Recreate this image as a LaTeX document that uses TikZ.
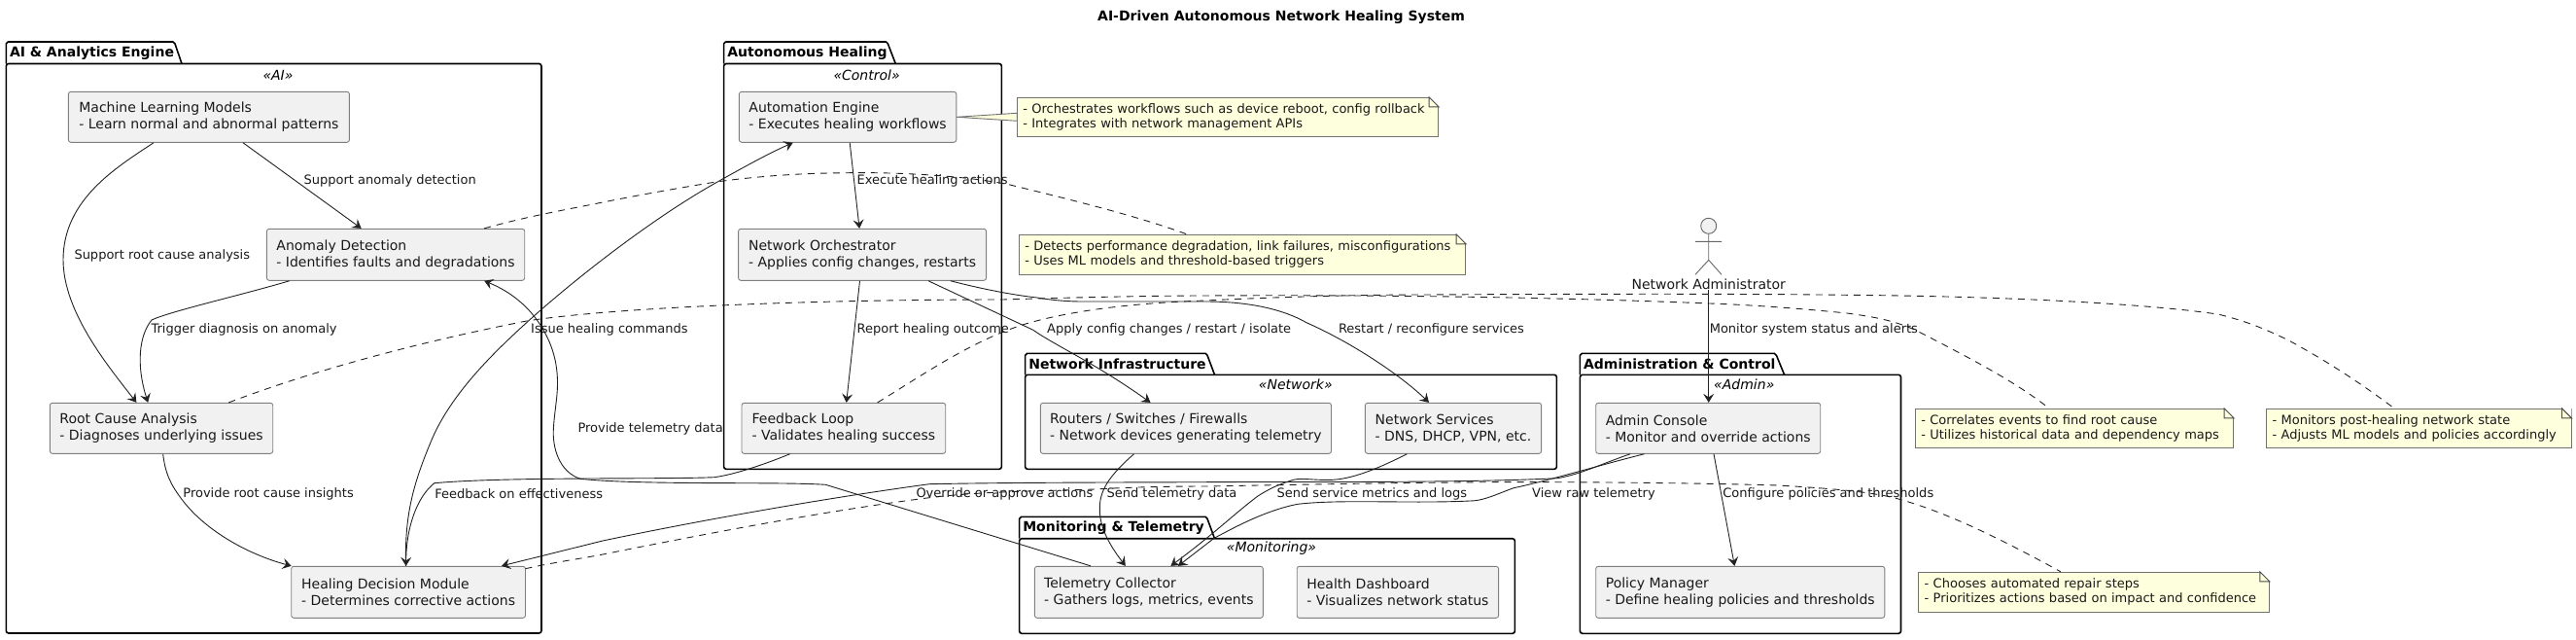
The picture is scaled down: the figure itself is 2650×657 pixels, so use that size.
\documentclass[tikz,border=0pt]{standalone}
\usepackage{fontspec}
\setmainfont{DejaVu Sans}
\usetikzlibrary{arrows.meta,calc}
\definecolor{boxfill}{HTML}{F1F1F1}
\definecolor{boxline}{HTML}{7F7F7F}
\definecolor{notefill}{HTML}{FEFFDD}
\definecolor{ink}{HTML}{222222}
\tikzset{
  x=1pt,y=-1pt,
  boxnode/.style={draw=boxline,fill=boxfill,line width=0.9pt,rounded corners=2.5pt,inner sep=0pt,align=left,font=\fontsize{14}{17}\selectfont,text=black!90},
  notenode/.style={draw=boxline!90!black,fill=notefill,line width=0.9pt,inner xsep=6pt,inner ysep=0pt,align=left,font=\fontsize{13}{15}\selectfont,text=black!90},
  pkgbody/.style={draw=black,line width=1.6pt,rounded corners=2.5pt,inner sep=0pt},
  pkgtab/.style={draw=black,line width=1.6pt,line join=round},
  pkgname/.style={font=\fontsize{14}{17}\selectfont\bfseries,anchor=west,inner sep=0pt},
  stereo/.style={font=\fontsize{14}{17}\selectfont\itshape,inner sep=0pt},
  edgelabel/.style={font=\fontsize{13}{15}\selectfont,anchor=west,inner sep=0pt,text=black!90},
  arr/.style={draw=ink,line width=0.9pt,-{Stealth[length=9pt,width=11pt,inset=3.5pt]}},
  dashlink/.style={draw=ink,line width=0.9pt,dash pattern=on 7pt off 6pt},
  foldline/.style={draw=boxline!60!black,line width=0.9pt},
  actorline/.style={draw=boxline!80!black,line width=0.9pt},
}
\newcommand{\rbox}[7][boxnode]{% style, name, x0,x1,y0,y1, text
  \node[#1,minimum width={(#4-#3)*1pt},minimum height={(#6-#5)*1pt}] (#2) at ({(#3+#4)/2},{(#5+#6)/2}) {#7};}
\newcommand{\notebox}[6]{%
  \rbox[notenode,text width={(#3-#2-12)*1pt}]{#1}{#2}{#3}{#4}{#5}{#6}
  \fill[white] ($(#1.north east)+(-10,0)$) -- (#1.north east) -- ($(#1.north east)+(0,10)$) -- cycle;
  \draw[foldline] ($(#1.north east)+(-10,0)$) -- ($(#1.north east)+(0,10)$) -- ($(#1.north east)+(-10,10)$) -- cycle;}
\newcommand{\package}[9]{% name, L,R,tabtop,bodytop,bottom, tabRightTop, tabRightBody, title
  \rbox[pkgbody]{#1}{#2}{#3}{#5}{#6}{}
  \draw[pkgtab] (#2,#5) -- (#2,{#4+2}) -- ++(2,-2) -- ({#7-2},#4) -- ++(2,2) -- (#8,#5);
  \node[pkgname] (#1t) at ({#2+3.5},{(#4+#5)/2}) {#9};}
\begin{document}
\begin{tikzpicture}
\useasboundingbox (0,0) rectangle (2650,657);
\node[font=\fontsize{14}{17}\selectfont\bfseries,inner sep=0pt] (title) at (1318,18) {AI-Driven Autonomous Network Healing System};

% packages
\package{pai}{6.3}{557}{43}{65.5}{651}{180}{187}{AI \& Analytics Engine}
\node[stereo] (pais) at (286,77) {«AI»};
\package{pah}{744.6}{1030.4}{43}{65.5}{482.3}{913.4}{921.3}{Autonomous Healing}
\node[stereo] (pahs) at (891.6,77) {«Control»};
\package{pni}{1054.6}{1601.4}{363.3}{385.3}{482.3}{1242}{1249.5}{Network Infrastructure}
\node[stereo] (pnis) at (1332.8,395) {«Network»};
\package{pmt}{1048.6}{1558.4}{531.3}{553.7}{651.3}{1242}{1249.5}{Monitoring \& Telemetry}
\node[stereo] (pmts) at (1308,564) {«Monitoring»};
\package{pad}{1625.4}{1955.5}{363.3}{385.3}{651.3}{1827.4}{1835.6}{Administration \& Control}
\node[stereo] (pads) at (1794.3,395) {«Admin»};

% boxes
\rbox{ml}{70.4}{359.4}{94.3}{146.3}{Machine Learning Models\\- Learn normal and abnormal patterns}
\rbox{anom}{274.4}{539.7}{235.3}{288.3}{Anomaly Detection\\- Identifies faults and degradations}
\rbox{root}{51.4}{280.7}{414.3}{466.3}{Root Cause Analysis\\- Diagnoses underlying issues}
\rbox{heal}{299.7}{540.5}{582.3}{635.3}{Healing Decision Module\\- Determines corrective actions}
\rbox{auto}{760.4}{983.8}{94.3}{146.3}{Automation Engine\\- Executes healing workflows}
\rbox{orch}{759.6}{1014.6}{235.3}{288.3}{Network Orchestrator\\- Applies config changes, restarts}
\rbox{feed}{763}{972.7}{414.3}{466.3}{Feedback Loop\\- Validates healing success}
\rbox{rout}{1070.4}{1369.5}{414.3}{466.3}{Routers / Switches / Firewalls\\- Network devices generating telemetry}
\rbox{serv}{1404.4}{1585.6}{414.3}{466.3}{Network Services\\- DNS, DHCP, VPN, etc.}
\rbox{tele}{1064.4}{1299.3}{582.3}{635.3}{Telemetry Collector\\- Gathers logs, metrics, events}
\rbox{dash}{1334.2}{1541.6}{582.3}{635.3}{Health Dashboard\\- Visualizes network status}
\rbox{cons}{1641.7}{1872.7}{414.3}{466.3}{Admin Console\\- Monitor and override actions}
\rbox{poli}{1641.7}{1938.8}{582.3}{635.3}{Policy Manager\\- Define healing policies and thresholds}

% notes
\draw[notenode] (auto.east) -- (1046.3,116.3) -- (1046.3,124.3) -- cycle;
\notebox{n1}{1046.3}{1479.7}{100.3}{140.3}{- Orchestrates workflows such as device reboot, config rollback\\- Integrates with network management APIs}
\notebox{n2}{1048.3}{1507.7}{241.3}{282.3}{- Detects performance degradation, link failures, misconfigurations\\- Uses ML models and threshold-based triggers}
\notebox{n3}{1970.3}{2297.6}{420.3}{460.3}{- Correlates events to find root cause\\- Utilizes historical data and dependency maps}
\notebox{n4}{2331.6}{2645}{420.3}{460.3}{- Monitors post-healing network state\\- Adjusts ML models and policies accordingly}
\notebox{n5}{1973.7}{2334.4}{588.3}{629.3}{- Chooses automated repair steps\\- Prioritizes actions based on impact and confidence}

% actor
\coordinate (ahead) at (1757.7,240.3);
\draw[actorline,fill=boxfill] (1757.7,232.3) ellipse [x radius=8,y radius=8];
\draw[actorline] (ahead) -- (1757.7,267.3) (1744,248.3) -- (1771,248.3) (1744,282.3) -- (1757.7,267.3) -- (1771,282.3);
\node[font=\fontsize{14}{17}\selectfont,inner sep=0pt,text=black!90] (admin) at (1757.7,292) {Network Administrator};

% solid connectors
\draw[arr] (250,0 |- ml.south) -- (371.7,0 |- anom.north);
\draw[arr] (158,0 |- ml.south) .. controls (120,172) and (65,205) .. (65,267) .. controls (65,320) and (110,375) .. (140.4,0 |- root.north);
\draw[arr] (297.7,0 |- anom.south) .. controls (250,303) and (175,320) .. (156,329) .. controls (143,345) and (140,375) .. (152.2,0 |- root.north);
\draw[arr] (167.7,0 |- root.south) .. controls (170,488) and (177,500) .. (186,512) .. controls (210,545) and (255,570) .. (299.7,0 |- heal.north);
\draw[arr] (417.6,0 |- heal.north) .. controls (416,530) and (425,497) .. (445,450) .. controls (465,405) and (505,365) .. (541.7,331.7) .. controls (590,288) and (670,225) .. (738.6,186.7) .. controls (765,172) and (790,158) .. (815.7,0 |- auto.south);
\draw[arr] (812.6,0 |- feed.south) .. controls (785,478) and (755,488) .. (734.7,490.7) .. controls (680,493) and (520,490) .. (446.8,496.7) .. controls (430,510) and (418,540) .. (417.6,0 |- heal.north);
\draw[arr] (1677,0 |- cons.south) .. controls (1650,476) and (1625,488) .. (1602,491.7) .. controls (1500,497) and (1300,495) .. (1240,495.7) .. controls (1150,496) and (1040,496) .. (956,497.7) .. controls (850,512) and (720,535) .. (620,556) -- (516,0 |- heal.north);
\draw[arr] (1691.5,0 |- cons.south) .. controls (1650,477) and (1590,495) .. (1557,501.7) .. controls (1535,510) and (1525,515) .. (1512,515) .. controls (1450,518) and (1380,513) .. (1335,518.3) .. controls (1300,525) and (1265,545) .. (1249,553.3) -- (1212,0 |- tele.north);
\draw[arr] (1447.4,0 |- serv.south) .. controls (1425,478) and (1395,492) .. (1371,493.3) .. controls (1350,494) and (1340,491) .. (1330.6,493.3) .. controls (1315,498) and (1305,503) .. (1294,510) .. controls (1270,528) and (1250,548) .. (1204.4,0 |- tele.north);
\draw[arr] (1166.5,0 |- rout.south) .. controls (1140,490) and (1131,505) .. (1131.3,523.3) .. controls (1131,545) and (1145,565) .. (1157.8,0 |- tele.north);
\draw[arr] (1122,0 |- tele.north) -- (849.3,498.3) .. controls (800,495) and (660,499) .. (597,492.3) .. controls (575,485) and (568,460) .. (569.4,440) .. controls (571,415) and (576,400) .. (572,375) .. controls (568,350) and (550,310) .. (498.2,0 |- anom.south);
\draw[arr] (874.2,0 |- auto.south) -- (884.1,0 |- orch.north);
\draw[arr] (884.5,0 |- orch.south) -- (870.7,0 |- feed.north);
\draw[arr] (955,0 |- orch.south) -- (1062.9,339.3) .. controls (1085,355) and (1126,373) .. (1183.5,0 |- rout.north);
\draw[arr] (977.8,0 |- orch.south) .. controls (1010,297) and (1040,303) .. (1066.8,306) .. controls (1085,309) and (1100,310) .. (1114,310) .. controls (1170,310) and (1210,310) .. (1240,310) .. controls (1285,310) and (1320,318) .. (1344,331.7) .. controls (1390,352) and (1440,385) .. (1470,0 |- serv.north);
\draw[arr] (admin.south) -- (admin.south |- cons.north);
\draw[arr] (1763,0 |- cons.south) -- (1784.4,0 |- poli.north);

% dashed note links
\draw[dashlink] (498.2,0 |- anom.north) .. controls (540,223) and (580,216) .. (620,208) .. controls (660,200) and (700,193) .. (738.6,186.7) .. controls (790,180) and (830,178) .. (873,177.7) .. controls (920,177) and (990,180) .. (1039,190) .. controls (1100,205) and (1170,222) .. (1221,0 |- n2.north);
\draw[dashlink] (235.3,0 |- root.north) .. controls (330,378) and (440,350) .. (541.7,330) .. controls (640,315) and (850,308) .. (1031,308) .. controls (1100,306) and (1180,304) .. (1240,304) .. controls (1400,303) and (1600,305) .. (1783,313) .. controls (1840,316) and (1880,320) .. (1900,322) .. controls (1930,326) and (1950,330) .. (1971.8,340) .. controls (2020,365) and (2070,390) .. (2108,0 |- n3.north);
\draw[dashlink] (902.7,0 |- feed.north) .. controls (950,385) and (1000,350) .. (1055,333) .. controls (1110,317) and (1180,311) .. (1240,309) .. controls (1320,305) and (1400,303) .. (1466,303) .. controls (1650,302) and (1800,302) .. (1900,303.3) .. controls (2100,305) and (2230,315) .. (2282.8,323.3) .. controls (2310,330) and (2330,338) .. (2354.5,350) .. controls (2395,372) and (2430,395) .. (2463,0 |- n4.north);
\draw[dashlink] (540.5,584.7) .. controls (570,578) and (600,574) .. (620,570) .. controls (720,550) and (850,525) .. (956,511.7) .. controls (1010,505) and (1070,505) .. (1126,503) .. controls (1160,501) and (1200,500) .. (1240,500) .. controls (1350,498) and (1500,495) .. (1602,495.7) .. controls (1680,496) and (1760,497) .. (1829,499) .. controls (1880,502) and (1920,505) .. (1948,511.7) .. controls (2000,525) and (2060,555) .. (2120,0 |- n5.north);

% labels
\node[edgelabel] (l1) at (312.4,185.7) {Support anomaly detection};
\node[edgelabel] (l2) at (76.3,262.7) {Support root cause analysis};
\node[edgelabel] (l3) at (155.4,338.7) {Trigger diagnosis on anomaly};
\node[edgelabel] (l4) at (188.2,507.7) {Provide root cause insights};
\node[edgelabel] (l5) at (447.2,507.7) {Feedback on effectiveness};
\node[edgelabel] (l6) at (546,338.7) {Issue healing commands};
\node[edgelabel] (l7) at (594.3,440.7) {Provide telemetry data};
\node[edgelabel] (l8) at (881.4,185.7) {Execute healing actions};
\node[edgelabel] (l9) at (881.4,338.7) {Report healing outcome};
\node[edgelabel] (l10) at (1077,338.7) {Apply config changes / restart / isolate};
\node[edgelabel] (l11) at (1376.8,338.7) {Restart / reconfigure services};
\node[edgelabel] (l12) at (1758.6,338.7) {Monitor system status and alerts};
\node[edgelabel] (l13) at (942.3,507.7) {Override or approve actions};
\node[edgelabel] (l14) at (1138.4,507.7) {Send telemetry data};
\node[edgelabel] (l15) at (1313.4,507.7) {Send service metrics and logs};
\node[edgelabel] (l16) at (1576,507.7) {View raw telemetry};
\node[edgelabel] (l17) at (1772.2,507.7) {Configure policies and thresholds};
\end{tikzpicture}
\end{document}
